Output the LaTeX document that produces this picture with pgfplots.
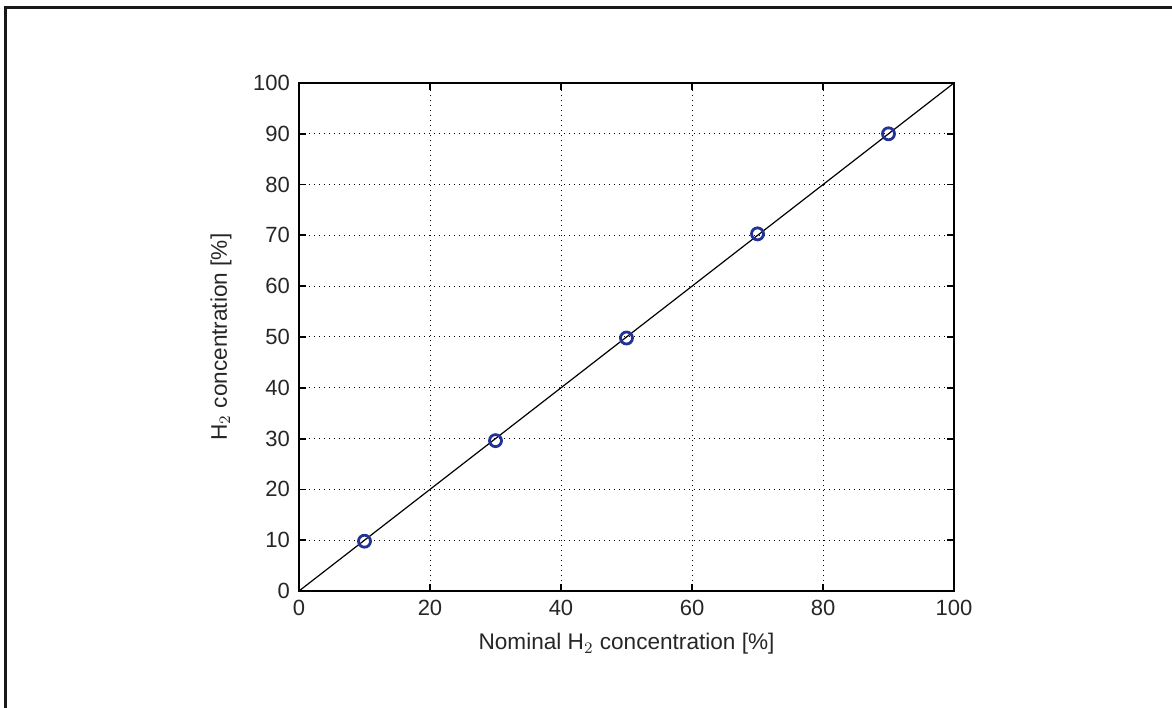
\documentclass[border=0pt]{standalone}
\usepackage{pgfplots}
\pgfplotsset{compat=1.18}
\usepackage{fontspec}
\setmainfont{Liberation Sans}
\definecolor{mblue}{RGB}{35,50,150}

\begin{document}
\begin{tikzpicture}
\useasboundingbox (-149.5pt,-58pt) rectangle (436.5pt,295.5pt);
\draw[line width=1.5pt,black!90] (-146.5pt,-60pt) -- (-146.5pt,291.5pt) -- (440pt,291.5pt);
\begin{axis}[
    at={(0pt,0pt)}, anchor=south west,
    scale only axis,
    width=327.5pt, height=254pt,
    xmin=0, xmax=100,
    ymin=0, ymax=100,
    xtick={0,20,40,60,80,100},
    ytick={0,10,20,30,40,50,60,70,80,90,100},
    tick align=inside,
    major tick length=3.5pt,
    xtick pos=both, ytick pos=both,
    axis line style={line width=0.9pt},
    tick style={line width=0.9pt, black},
    grid=major,
    grid style={black, line width=0.5pt, dash pattern=on 0.6pt off 1.9pt},
    font=\fontsize{11.3}{13}\selectfont,
    tick label style={font=\fontsize{11}{13}\selectfont, text=black!85},
    /pgf/number format/assume math mode=true,
    xticklabel style={yshift=-1pt},
    yticklabel style={xshift=-1pt},
    xlabel={Nominal H$_2$ concentration [\%]},
    ylabel={H$_2$ concentration [\%]},
    xlabel style={yshift=-2pt, text=black!85},
    ylabel style={yshift=4pt, text=black!85},
]
\addplot[black, line width=0.6pt] coordinates {(0,0) (100,100)};
\addplot[only marks, mark=o, mark size=3pt, mblue, mark options={line width=1.4pt}]
    coordinates {(10,9.8) (30,29.6) (50,49.8) (70,70.3) (90,90.0)};
\end{axis}
\end{tikzpicture}
\end{document}
